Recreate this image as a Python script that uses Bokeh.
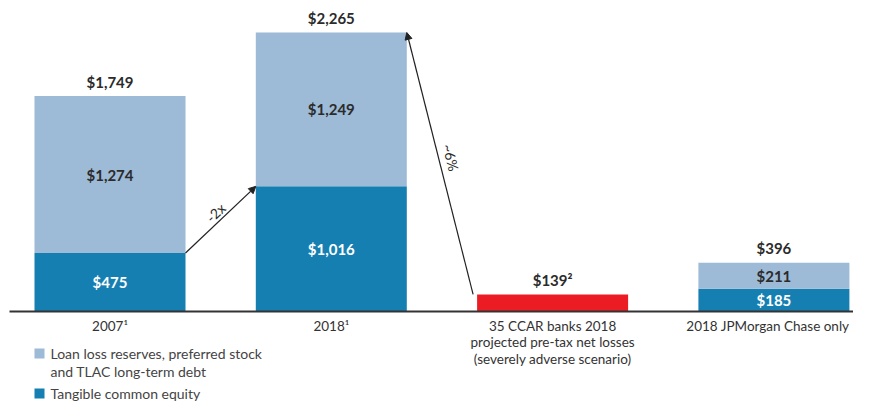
from bokeh.plotting import figure
from bokeh.models import ColumnDataSource, Arrow, NormalHead
from bokeh.core.properties import value
from bokeh.embed import file_html
from bokeh.resources import INLINE
import math

# ---------------- data ----------------
categories = ["2007¹", "2018¹",
              "35 CCAR banks 2018\nprojected pre-tax net losses\n(severely adverse scenario)",
              "2018 JPMorgan Chase only"]
tangible_equity = [475, 1016, 0, 185]
reserves_debt = [1274, 1249, 0, 211]
ccar_losses = [0, 0, 139, 0]
totals = [1749, 2265, 139, 396]
total_labels = ["$1,749", "$2,265", "$139²", "$396"]
equity_labels = ["$475", "$1,016", "", "$185"]
reserve_labels = ["$1,274", "$1,249", "", "$211"]
legend_labels = ["Loan loss reserves, preferred stock\nand TLAC long-term debt",
                 "Tangible common equity"]
arrow_labels = ["-2x", "~6%"]

# ---------------- style / layout ----------------
LIGHT = "#9dbad6"
DARK = "#167fb2"
RED = "#ec1c24"
TXT = "#2b2b2b"
FONT = "Lato"

W, H = 853, 402
SLOT = 221.3          # px between bar centres
FIRST = 109.5         # px of first bar centre from left
BASE = 311            # px of baseline from top
SCALE = 279.0 / 2265  # px per $bn
BAR_W = 151 / SLOT

x0 = -FIRST / SLOT
x1 = x0 + W / SLOT
y1 = BASE / SCALE
y0 = -(H - BASE) / SCALE
PX = (x1 - x0) / W    # data units per px (x)
PY = (y1 - y0) / H    # data units per px (y)

p = figure(width=W, height=H, x_range=(x0, x1), y_range=(y0, y1),
           x_axis_type=None, y_axis_type=None, output_backend="svg",
           toolbar_location=None, min_border=0, outline_line_color=None)
p.grid.visible = False
p.background_fill_color = "white"

idx = list(range(len(categories)))

# bars
eq_src = ColumnDataSource(dict(x=[i for i in idx if tangible_equity[i] > 0],
                               top=[tangible_equity[i] for i in idx if tangible_equity[i] > 0]))
p.vbar(x="x", top="top", bottom=0, width=BAR_W, source=eq_src,
       fill_color=DARK, line_color=None)
rs_src = ColumnDataSource(dict(x=[i for i in idx if reserves_debt[i] > 0],
                               bottom=[tangible_equity[i] for i in idx if reserves_debt[i] > 0],
                               top=[tangible_equity[i] + reserves_debt[i] for i in idx if reserves_debt[i] > 0]))
p.vbar(x="x", top="top", bottom="bottom", width=BAR_W, source=rs_src,
       fill_color=LIGHT, line_color=None)
ls_src = ColumnDataSource(dict(x=[i for i in idx if ccar_losses[i] > 0],
                               top=[ccar_losses[i] for i in idx if ccar_losses[i] > 0]))
p.vbar(x="x", top="top", bottom=0, width=BAR_W, source=ls_src,
       fill_color=RED, line_color=None)

# baseline
p.segment(x0=[x0 + 9 * PX], y0=[0], x1=[x1], y1=[0], line_color="#333333", line_width=2)

# value labels
p.text(x=idx, y=[t + 14.5 * PY for t in totals], text=total_labels,
       text_font=value(FONT), text_font_style="bold", text_font_size="15px",
       text_color=TXT, text_align="center", text_baseline="middle")
ei = [i for i in idx if equity_labels[i]]
p.text(x=ei, y=[tangible_equity[i] / 2 for i in ei], text=[equity_labels[i] for i in ei],
       text_font=value(FONT), text_font_style="bold", text_font_size="15px",
       text_color="white", text_align="center", text_baseline="middle")
ri = [i for i in idx if reserve_labels[i]]
p.text(x=ri, y=[tangible_equity[i] + reserves_debt[i] / 2 for i in ri],
       text=[reserve_labels[i] for i in ri],
       text_font=value(FONT), text_font_style="bold", text_font_size="15px",
       text_color=TXT, text_align="center", text_baseline="middle")

# category labels (one glyph per line); last one nudged to stay inside the page
cx, cy, ct = [], [], []
for i, c in enumerate(categories):
    shift = -6 * PX if i == len(categories) - 1 else 0
    for k, line in enumerate(c.split("\n")):
        cx.append(i + shift)
        cy.append(-(14 + 16.5 * k) * PY)
        ct.append(line)
p.text(x=cx, y=cy, text=ct, text_font=value(FONT), text_font_size="13.5px",
       text_color="#333333", text_align="center", text_baseline="middle")

# arrows
head = dict(size=7, fill_color="#222222", line_color="#222222")
a1 = (0 + BAR_W / 2, tangible_equity[0], 1 - BAR_W / 2, tangible_equity[1])
a2 = (2 - BAR_W / 2 - 4 * PX, ccar_losses[2], 1 + BAR_W / 2, totals[1])
for (xs, ys, xe, ye) in (a1, a2):
    p.add_layout(Arrow(end=NormalHead(**head), x_start=xs, y_start=ys, x_end=xe, y_end=ye,
                       line_color="#222222", line_width=1.2))

def px_angle(xs, ys, xe, ye):
    return math.atan2((ye - ys) / PY, (xe - xs) / PX)

ang1 = px_angle(*a1)
mx1, my1 = (a1[0] + a1[2]) / 2, (a1[1] + a1[3]) / 2
p.text(x=[mx1 - 5 * PX], y=[my1 + 7 * PY], text=[arrow_labels[0]], angle=[ang1],
       text_font=value(FONT), text_font_size="14px", text_color=TXT,
       text_align="center", text_baseline="middle")
ang2 = px_angle(a2[2], a2[3], a2[0], a2[1])
mx2, my2 = (a2[0] + a2[2]) / 2, (a2[1] + a2[3]) / 2
p.text(x=[mx2 + 11 * PX], y=[my2 + 6 * PY], text=[arrow_labels[1]], angle=[ang2],
       text_font=value(FONT), text_font_size="14px", text_color=TXT,
       text_align="center", text_baseline="middle")

# legend (drawn)
leg_colors = [LIGHT, DARK]
sq_x = x0 + 39 * PX
tx_x = x0 + 50 * PX
leg_rows = [353, 393]  # px from top of first line centre
sx, sy, lx, ly, lt = [], [], [], [], []
for k, lab in enumerate(legend_labels):
    yy = y1 - leg_rows[k] * PY
    sx.append(sq_x); sy.append(yy)
    for j, line in enumerate(lab.split("\n")):
        lx.append(tx_x); ly.append(yy - 18 * j * PY); lt.append(line)
p.rect(x=sx, y=sy, width=10, height=10, width_units="screen", height_units="screen",
       fill_color=leg_colors, line_color=None)
p.text(x=lx, y=ly, text=lt, text_font=value(FONT), text_font_size="14px",
       text_color="#444444", text_align="left", text_baseline="middle")

open("out.html", "w").write(file_html(p, INLINE))
